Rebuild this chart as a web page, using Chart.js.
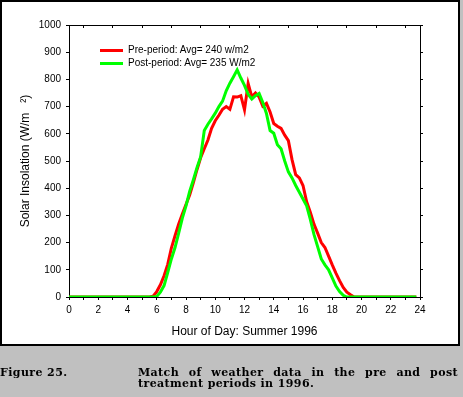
<!DOCTYPE html>
<html>
<head>
<meta charset="utf-8">
<script src="https://cdn.jsdelivr.net/npm/chart.js@4/dist/chart.umd.min.js"></script>
<style>
  html, body { margin: 0; padding: 0; }
  body { width: 463px; height: 397px; background: #c0c0c0; position: relative; overflow: hidden; }
  #box { position: absolute; left: 0; top: 0; width: 456px; height: 342px; border: 2px solid #000; background: #fff; }
  #chart { position: absolute; left: 0; top: 0; }
  .leg { position: absolute; font: 10px "Liberation Sans", Arial, sans-serif; color: #000; white-space: nowrap; }
  .leg span { position: absolute; left: 0; top: 5px; width: 23px; height: 3px; }
  .leg b { position: absolute; left: 28px; top: 0; font-weight: normal; line-height: 12px; }
  .cap { position: absolute; font: bold 11px "DejaVu Serif", serif; color: #000; line-height: 12px; white-space: nowrap; letter-spacing: 0.4px; }
</style>
</head>
<body>
<div id="box"></div>
<canvas id="chart" width="463" height="397"></canvas>
<div class="leg" style="left:100px;top:44px;"><span style="background:#ff0000"></span><b>Pre-period: Avg= 240 w/m2</b></div>
<div class="leg" style="left:100px;top:57px;"><span style="background:#00ff00"></span><b>Post-period: Avg= 235 W/m2</b></div>
<div class="cap" style="left:0;top:367px;">Figure 25.</div>
<div class="cap" style="left:138px;top:367px;width:320px;text-align:justify;text-align-last:justify;white-space:normal;">Match of weather data in the pre and post</div>
<div class="cap" style="left:138px;top:378px;">treatment periods in 1996.</div>
<script>
const hours = [0, 1, 2, 3, 4, 5,
    5.5, 5.75, 6, 6.25, 6.5, 6.75, 7, 7.25, 7.5, 7.75,
    8, 8.25, 8.5, 8.75, 9, 9.25, 9.5, 9.75, 10, 10.25, 10.5, 10.75,
    11, 11.25, 11.5, 11.75, 12, 12.25, 12.5, 12.75, 13, 13.25, 13.5, 13.75,
    14, 14.25, 14.5, 14.75, 15, 15.25, 15.5, 15.75, 16, 16.25, 16.5, 16.75,
    17, 17.25, 17.5, 17.75, 18, 18.25, 18.5, 18.75, 19, 19.25, 19.5, 19.75,
    20, 21, 22, 23, 23.75];

const prePeriod = [0, 0, 0, 0, 0, 0,
    0, 3, 20, 45, 78, 120, 180, 225, 268, 305,
    340, 375, 420, 468, 512, 545, 577, 620, 648, 668, 690, 700,
    690, 736, 735, 740, 688, 785, 736, 750, 735, 702, 712, 680,
    638, 628, 620, 595, 575, 505, 450, 438, 410, 350, 312, 268,
    235, 200, 182, 150, 118, 88, 60, 35, 18, 8, 0, 0,
    0, 0, 0, 0, 0];

const postPeriod = [0, 0, 0, 0, 0, 0,
    0, 0, 2, 18, 42, 90, 140, 182, 235, 290,
    335, 388, 430, 475, 515, 612, 635, 655, 676, 700, 720, 758,
    786, 810, 835, 805, 778, 745, 728, 740, 748, 715, 675, 612,
    602, 560, 545, 500, 460, 438, 410, 385, 360, 335, 285, 230,
    185, 140, 118, 100, 70, 40, 20, 6, 0, 0, 0, 0,
    0, 0, 0, 0, 0];

const topTicks = [1, 3, 5, 7, 9, 11, 13, 15, 17, 19, 21, 23];

function points(values) {
    return hours.map(function (h, i) {
        return {x: h, y: values[i]};
    });
}

const tickFont = {family: '"Liberation Sans", Arial, sans-serif', size: 10};
const titleFont = {family: '"Liberation Sans", Arial, sans-serif', size: 12};
const axisGrid = {drawOnChartArea: false, color: '#000', tickLength: 3, tickWidth: 1};
const axisBorder = {display: true, color: '#000', width: 1};

new Chart(document.getElementById('chart'), {
    type: 'line',
    data: {
        datasets: [{
            label: 'Pre-period: Avg= 240 w/m2',
            data: points(prePeriod),
            borderColor: '#ff0000',
            borderWidth: 3,
            pointRadius: 0,
            tension: 0,
            order: 1
        }, {
            label: 'Post-period: Avg= 235 W/m2',
            data: points(postPeriod),
            borderColor: '#00ff00',
            borderWidth: 3,
            pointRadius: 0,
            tension: 0,
            order: 0
        }]
    },
    options: {
        responsive: false,
        animation: false,
        events: [],
        layout: {padding: {top: 25, left: 14, right: 40, bottom: 54}},
        plugins: {legend: {display: false}, tooltip: {enabled: false}},
        scales: {
            x: {
                type: 'linear', position: 'bottom', min: 0, max: 24,
                grid: axisGrid, border: axisBorder,
                ticks: {
                    stepSize: 1, autoSkip: false, maxRotation: 0, padding: 4,
                    color: '#000', font: tickFont,
                    callback: function (v) { return v % 2 === 0 ? String(v) : ''; }
                },
                title: {display: true, text: 'Hour of Day: Summer 1996', color: '#000', font: titleFont},
                afterFit: function (s) { s.height = 46; }
            },
            xTop: {
                type: 'linear', position: 'top', min: 0, max: 24,
                grid: {drawOnChartArea: false, color: '#000', tickLength: -3},
                border: axisBorder,
                ticks: {display: false},
                afterBuildTicks: function (s) { s.ticks = topTicks.map(function (v) { return {value: v}; }); },
                afterFit: function (s) { s.height = 0; }
            },
            y: {
                position: 'left', min: 0, max: 1000,
                grid: axisGrid, border: axisBorder,
                ticks: {
                    stepSize: 100, padding: 5, color: '#000', font: tickFont,
                    callback: function (v) { return String(v); }
                },
                title: {display: true, text: 'Solar Insolation (W/m   \u00b2)', color: '#000', font: titleFont},
                afterFit: function (s) { s.width = 55; }
            },
            yRight: {
                position: 'right', min: 0, max: 1000,
                grid: axisGrid, border: axisBorder,
                ticks: {stepSize: 100, display: false},
                afterFit: function (s) { s.width = 3; }
            }
        }
    }
});
</script>
</body>
</html>
